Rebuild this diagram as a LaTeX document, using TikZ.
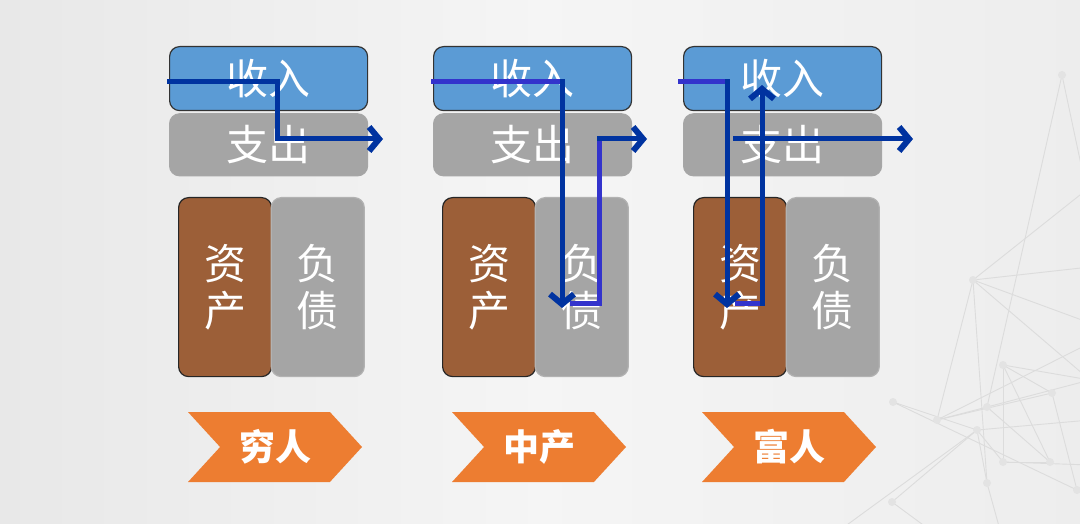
\documentclass[tikz,border=0pt]{standalone}
\usepackage{fontspec}
\newfontfamily\cjk{Noto Sans CJK SC}
\usetikzlibrary{arrows.meta,positioning,calc,shapes.symbols}
\definecolor{incomeblue}{HTML}{5B9BD5}
\definecolor{spendgray}{HTML}{A5A5A5}
\definecolor{assetbrown}{HTML}{9C5F38}
\definecolor{tagorange}{HTML}{ED7D31}
\definecolor{flowdark}{HTML}{0033A0}
\definecolor{flowlight}{HTML}{3333CC}
\definecolor{netgray}{HTML}{DCDCDC}
\tikzset{
    every node/.style={font=\cjk, text=white}
}

\begin{document}
\begin{tikzpicture}[
        x=1pt, y=-1pt,
        >={Straight Barb[length=10pt,width=24pt,line width=6pt]},
        box/.style={rectangle, rounded corners=10pt, line width=1.2pt, inner sep=0pt,
            font=\cjk\fontsize{42}{48}\selectfont},
        income/.style={box, fill=incomeblue, draw=black!80, minimum width=198pt, minimum height=64pt},
        expense/.style={box, fill=spendgray, draw=black!35, minimum width=198pt, minimum height=62pt},
        asset/.style={box, fill=assetbrown, draw=black!85, minimum width=93pt, minimum height=179pt,
            align=center, font=\cjk\fontsize{42}{47}\selectfont},
        debt/.style={asset, fill=spendgray, draw=black!30},
        tag/.style={signal, signal from=west, signal to=east, signal pointer angle=95,
            fill=tagorange, minimum width=174pt, minimum height=70pt, inner sep=0pt,
            font=\cjk\bfseries\fontsize{36}{40}\selectfont},
        flow/.style={line width=5pt, draw=flowdark, line cap=rect},
        feed/.style={line width=5pt, draw=flowlight, line cap=rect},
        net/.style={draw=netgray, line width=0.9pt}
    ]

    \useasboundingbox (0,0) rectangle (1080,524);
    \shade[left color=black!9, right color=black!7, middle color=black!4] (0,0) rectangle (1080,524);

    % Background network
    \begin{scope}
        \clip (0,0) rectangle (1080,524);
        \coordinate (n1) at (1062,75);
        \coordinate (n2) at (973,280);
        \coordinate (n3) at (1003,365);
        \coordinate (n4) at (893,402);
        \coordinate (n5) at (937,420);
        \coordinate (n6) at (987,407);
        \coordinate (n7) at (977,430);
        \coordinate (n8) at (1052,393);
        \coordinate (n9) at (1003,462);
        \coordinate (n10) at (1050,462);
        \coordinate (n11) at (987,483);
        \coordinate (n12) at (892,502);
        \coordinate (n13) at (1077,490);
        \coordinate (e1) at (1090,207);
        \coordinate (e2) at (1090,187);
        \coordinate (e3) at (1090,267);
        \coordinate (e4) at (1090,323);
        \coordinate (e5) at (1090,343);
        \coordinate (e6) at (1090,380);
        \coordinate (e7) at (1090,420);
        \coordinate (e8) at (1090,465);
        \coordinate (e9) at (840,530);
        \coordinate (e10) at (1000,530);
        \coordinate (e11) at (930,530);
        \foreach \a/\b in {n1/n6, n1/e1, n2/e2, n2/e3, n2/e4, n2/n5, n2/n11, n2/e6,
                n3/n8, n3/n9, n3/n10, n3/e6, n4/n7, n4/n13, n5/e5, n5/n8, n5/n6,
                n6/e6, n7/n12, n7/n11, n7/e9, n7/n9, n7/e7, n9/n10, n9/e8,
                n11/e10, n12/e11, n6/n10, n8/n13}
            \draw[net] (\a) -- (\b);
        \foreach \i in {1,...,13}
            \fill[netgray!80] (n\i) circle (4pt);
    \end{scope}

    % Boxes
    \foreach \x/\n/\d in {169/1/9, 433/2/9, 683/3/10} {
        \node[income, anchor=north west] (in\n) at (\x,46) {收入};
        \node[expense, below=2pt of in\n] (out\n) {支出};
        \node[asset, anchor=north west] (as\n) at (\x+\d,197) {资\\产};
        \node[debt, right=-1.5pt of as\n] (de\n) {负\\债};
    }

    % Tags
    \node[tag] (poor) at (275,447) {穷人};
    \node[tag] (middle) at (539,447) {中产};
    \node[tag] (rich) at (789,447) {富人};

    % Poor: income -> spending
    \coordinate (pin) at (169,82);
    \coordinate (pturn) at (277,82);
    \coordinate (pout) at (383,139);
    \draw[flow, ->] (pin) -- (pturn) |- (pout);

    % Middle: income -> debt -> spending
    \coordinate (min) at (433,82);
    \coordinate (mturn) at (562,82);
    \coordinate (mdown) at (562,308);
    \coordinate (mback) at (572,303);
    \coordinate (mcorner) at (599,303);
    \coordinate (mup) at (599,139);
    \coordinate (mout) at (647,139);
    \draw[feed] (min) -- (mturn);
    \draw[flow, ->] (mturn) -- (mdown);
    \draw[feed] (mback) -- (mcorner) -- (mup);
    \draw[flow, ->] (mup) -- (mout);

    % Rich: income -> assets -> income
    \coordinate (rin) at (680,82);
    \coordinate (rturn) at (727,82);
    \coordinate (rdown) at (727,308);
    \coordinate (rback) at (737,303);
    \coordinate (rcorner) at (762,303);
    \coordinate (rup) at (762,85);
    \coordinate (rspend) at (735,139);
    \coordinate (rout) at (913,139);
    \draw[feed] (rin) -- (rturn);
    \draw[flow, ->] (rturn) -- (rdown);
    \draw[feed] (rback) -- (rcorner);
    \draw[flow, ->] (rcorner) -- (rup);
    \draw[flow, ->] (rspend) -- (rout);

\end{tikzpicture}
\end{document}
